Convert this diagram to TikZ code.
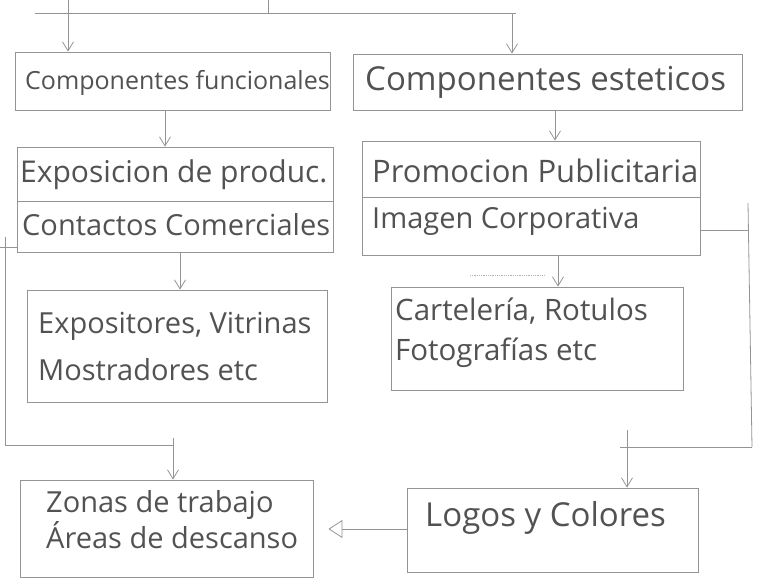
\documentclass[tikz,border=0pt]{standalone}
\usepackage{fontspec}
\setmainfont{Open Sans}
\usetikzlibrary{arrows.meta}
\begin{document}
\begin{tikzpicture}[x=1pt,y=-1pt,
  pencil/.style={draw=black!42,line width=0.8pt},
  boxnode/.style={pencil,rectangle,inner sep=0pt},
  label/.style={anchor=west,inner sep=0pt,align=left,text=black!68},
  arr/.style={pencil,-{Straight Barb[length=9pt,width=11pt]}},
  tri/.style={pencil,-{Triangle[open,length=14pt,width=18pt]}},
  fs/.style 2 args={font=\fontsize{#1}{#2}\selectfont}]
\useasboundingbox (0,0) rectangle (758,585);
% boxes
\node[boxnode,minimum width=315pt,minimum height=58pt] (b1) at (172.5,81) {};
\node[boxnode,minimum width=389pt,minimum height=56pt] (b2) at (547.5,82) {};
\node[boxnode,minimum width=316pt,minimum height=54pt] (b3a) at (175,174) {};
\node[boxnode,minimum width=316pt,minimum height=51pt] (b3b) at (175,226.5) {};
\node[boxnode,minimum width=338pt,minimum height=56pt] (b4a) at (531,169) {};
\node[boxnode,minimum width=338pt,minimum height=58pt] (b4b) at (531,226) {};
\node[boxnode,minimum width=300pt,minimum height=112pt] (b5) at (177,346) {};
\node[boxnode,minimum width=292pt,minimum height=103pt] (b6) at (537,338.5) {};
\node[boxnode,minimum width=293pt,minimum height=97pt] (b7) at (166.5,528.5) {};
\node[boxnode,minimum width=291pt,minimum height=84pt] (b8) at (552.5,530) {};
% texts
\node[label,fs={25}{30}] (t1) at (25,83) {Componentes funcionales};
\node[label,fs={33}{40}] (t2) at (365,82) {Componentes esteticos};
\node[label,fs={30}{36}] (t3a) at (20,175) {Exposicion de produc.};
\node[label,fs={29}{36}] (t3b) at (22,225) {Contactos Comerciales};
\node[label,fs={31}{36}] (t4a) at (372,171) {Promocion Publicitaria};
\node[label,fs={29}{36}] (t4b) at (372,221) {Imagen Corporativa};
\node[label,fs={29}{47}] (t5) at (38,346.5) {Expositores, Vitrinas\\Mostradores etc};
\node[label,fs={29.5}{40}] (t6) at (395,333) {Cartelería, Rotulos\\Fotografías etc};
\node[label,fs={29}{36}] (t7) at (46,520) {Zonas de trabajo\\Áreas de descanso};
\node[label,fs={33}{40}] (t8) at (425,518) {Logos y Colores};
% helper coordinates
\coordinate (t0) at (268,0);
\coordinate (tj) at (268,13);
\coordinate (tl) at (35,13);
\coordinate (tr) at (516,13);
\coordinate (ls) at (68,0);
\coordinate (rs) at (512,13);
\coordinate (x1) at (165,0);
\coordinate (x2) at (555,0);
\coordinate (x3) at (180,0);
\coordinate (x4) at (558,0);
\coordinate (l1) at (0,247);
\coordinate (l2) at (5,237);
\coordinate (l3) at (5,445);
\coordinate (l4) at (173,445);
\coordinate (l5) at (173,438);
\coordinate (r1) at (748,230);
\coordinate (r0) at (748,203);
\coordinate (r2) at (752,447);
\coordinate (r3) at (620,447);
\coordinate (r4) at (627,430);
\coordinate (ay) at (0,529);
\coordinate (d1) at (470,275);
\coordinate (d2) at (545,275);
% top connectors
\draw[pencil] (tl) -- (tr);
\draw[pencil] (t0) -- (tj);
\draw[arr] (ls) -- (ls |- b1.north);
\draw[arr] (rs) -- (rs |- b2.north);
% vertical flow
\draw[arr] (b1.south -| x1) -- (b3a.north -| x1);
\draw[arr] (b2.south -| x2) -- (b4a.north -| x2);
\draw[arr] (b3b.south -| x3) -- (b5.north -| x3);
\draw[arr] (b4b.south -| x4) -- (b6.north -| x4);
\draw[pencil,densely dotted,draw=black!30] (d1) -- (d2);
% left frame
\draw[pencil] (l1) -- (b3b.west |- l1);
\draw[pencil] (l2) -- (l3) -- (l4);
\draw[arr] (l5) -- (b7.north -| l5);
% right frame
\draw[pencil] (b4b.east |- r1) -- (r1);
\draw[pencil] (r0) -- (r2);
\draw[pencil] (r3) -- (r2);
\draw[arr] (r4) -- (b8.north -| r4);
% bottom
\draw[tri,shorten >=15pt] (b8.west |- ay) -- (b7.east |- ay);
\end{tikzpicture}
\end{document}
